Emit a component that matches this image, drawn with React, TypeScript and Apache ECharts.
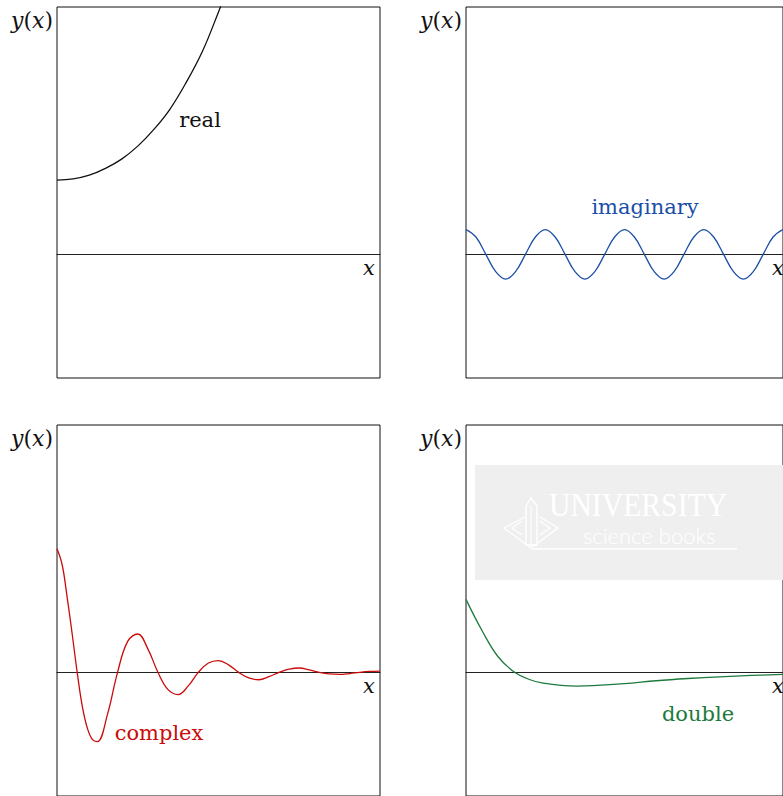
import { useEffect, useRef } from "react";
import * as echarts from "echarts";

// Sampled curves, one pair of arrays per panel (x along the axis, y as plotted).
const realX = [0, 0.5, 1, 1.5, 2, 2.5, 3, 3.5, 4, 4.5, 5, 5.2];
const realY = [0.6, 0.61, 0.64, 0.695, 0.77, 0.875, 1.01, 1.175, 1.39, 1.64, 1.96, 2.1];

const imagX = [
  0, 0.3125, 0.625, 0.9375, 1.25, 1.5625, 1.875, 2.1875, 2.5, 2.8125, 3.125, 3.4375,
  3.75, 4.0625, 4.375, 4.6875, 5, 5.3125, 5.625, 5.9375, 6.25, 6.5625, 6.875, 7.1875,
  7.5, 7.8125, 8.125, 8.4375, 8.75, 9.0625, 9.375, 9.6875, 10,
];
const imagY = [
  0.2, 0.14, 0, -0.14, -0.2, -0.14, 0, 0.14, 0.2, 0.14, 0, -0.14,
  -0.2, -0.14, 0, 0.14, 0.2, 0.14, 0, -0.14, -0.2, -0.14, 0, 0.14,
  0.2, 0.14, 0, -0.14, -0.2, -0.14, 0, 0.14, 0.2,
];

const complexX = [
  0, 0.16, 0.3125, 0.47, 0.625, 0.78, 0.9375, 1.1, 1.25, 1.5625, 1.875, 2.1875,
  2.5, 2.8125, 3.125, 3.4375, 3.75, 4.0625, 4.375, 4.6875, 5, 5.3125, 5.625, 5.9375,
  6.25, 6.5625, 6.875, 7.1875, 7.5, 7.8125, 8.125, 8.4375, 8.75, 9.0625, 9.375, 9.6875, 10,
];
const complexY = [
  1.0, 0.87, 0.61, 0.31, 0, -0.27, -0.45, -0.545, -0.56, -0.34, 0, 0.25,
  0.31, 0.19, 0, -0.14, -0.18, -0.11, 0, 0.075, 0.095, 0.06, 0, -0.045,
  -0.06, -0.035, 0, 0.026, 0.035, 0.02, 0, -0.013, -0.017, -0.01, 0, 0.007, 0.01,
];

const doubleX = [0, 0.5, 1, 1.5, 2, 2.5, 3, 3.5, 4, 5, 6, 7, 8, 9, 10];
const doubleY = [0.59, 0.34, 0.13, 0.007, -0.058, -0.09, -0.106, -0.111, -0.108, -0.092, -0.068, -0.05, -0.036, -0.025, -0.016];

const curveLabels = ["real", "imaginary", "complex", "double"];
const axisName = "x";

const COLORS = ["#111111", "#1b4fa6", "#cc0a0a", "#1d7a3c"];

// Panel boxes (px)
const PANELS = [
  { left: 57, top: 7 },
  { left: 466, top: 7 },
  { left: 57, top: 425 },
  { left: 466, top: 425 },
];
const PW = 323;
const PH = 371;
const Y_MIN = -1;
const Y_MAX = 2;

const zip = (xs: number[], ys: number[]) => xs.map((x, i) => [x, ys[i]]);

export default function App() {
  const ref = useRef<HTMLDivElement>(null);

  useEffect(() => {
    if (!ref.current) return;
    const chart = echarts.init(ref.current, null, { renderer: "svg" });

    const series = [
      zip(realX, realY),
      zip(imagX, imagY),
      zip(complexX, complexY),
      zip(doubleX, doubleY),
    ];

    const zeroY = (p: { top: number }) => p.top + (PH * Y_MAX) / (Y_MAX - Y_MIN);

    // Curve label anchor points (px)
    const labelPos = [
      [200, 120],
      [645, 207],
      [159, 733],
      [698, 714],
    ];

    const serif = "'DejaVu Serif', 'Liberation Serif', serif";
    const wm = { stroke: "#ffffff", lineWidth: 1.3, fill: "none" };

    const graphic: any[] = [
      // watermark
      {
        type: "rect",
        shape: { x: 475, y: 465, width: 330, height: 115 },
        style: { fill: "#efefef" },
        z: 0,
      },
      {
        type: "text",
        x: 549,
        y: 505,
        scaleX: 0.9,
        style: {
          text: "UNIVERSITY",
          fill: "#ffffff",
          fontFamily: "'Liberation Serif', serif",
          fontSize: 33,
          verticalAlign: "middle",
          align: "left",
        },
        z: 1,
      },
      {
        type: "text",
        x: 583,
        y: 535,
        style: {
          text: "science books",
          fill: "#ffffff",
          fontFamily: "Lato, 'Open Sans', sans-serif",
          fontWeight: 300,
          fontSize: 22,
          verticalAlign: "middle",
          align: "left",
        },
        z: 1,
      },
      {
        type: "line",
        shape: { x1: 532, y1: 549, x2: 737, y2: 549 },
        style: { stroke: "#ffffff", lineWidth: 1.3 },
        z: 1,
      },
      {
        type: "polyline",
        shape: { points: [[525, 517], [504, 528], [531, 548], [558, 528], [540, 517]] },
        style: wm,
        z: 1,
      },
      {
        type: "polyline",
        shape: { points: [[522, 521], [512, 528], [522, 535]] },
        style: wm,
        z: 1,
      },
      {
        type: "polyline",
        shape: { points: [[540, 521], [550, 528], [540, 535]] },
        style: wm,
        z: 1,
      },
      {
        type: "polygon",
        shape: { points: [[526, 545], [526, 506], [531, 498], [537, 506], [537, 545]] },
        style: wm,
        z: 1,
      },
      {
        type: "line",
        shape: { x1: 531, y1: 506, x2: 531, y2: 545 },
        style: { stroke: "#ffffff", lineWidth: 1 },
        z: 1,
      },
    ];

    PANELS.forEach((p, i) => {
      // y(x) label to the left of each box
      graphic.push({
        type: "text",
        x: p.left - 4,
        y: p.top + 13,
        style: {
          text: "{i|y}{r|(}{i|x}{r|)}",
          align: "right",
          verticalAlign: "middle",
          fill: "#111",
          rich: {
            i: { fontFamily: serif, fontStyle: "italic", fontSize: 22, fill: "#111" },
            r: { fontFamily: serif, fontSize: 22, fill: "#111" },
          },
        },
        z: 5,
      });
      // axis name near the right end of the zero line
      graphic.push({
        type: "text",
        x: p.left + PW - 11,
        y: zeroY(p) + 14,
        style: {
          text: axisName,
          fill: "#111",
          fontFamily: serif,
          fontStyle: "italic",
          fontSize: 21,
          align: "center",
          verticalAlign: "middle",
        },
        z: 5,
      });
      // curve label
      graphic.push({
        type: "text",
        x: labelPos[i][0],
        y: labelPos[i][1],
        style: {
          text: curveLabels[i],
          fill: i === 0 ? "#111" : COLORS[i],
          fontFamily: serif,
          fontSize: 21,
          align: "center",
          verticalAlign: "middle",
        },
        z: 5,
      });
    });

    chart.setOption({
      animation: false,
      backgroundColor: "#ffffff",
      grid: PANELS.map((p) => ({
        left: p.left,
        top: p.top,
        width: PW,
        height: PH,
        show: true,
        borderColor: "#111",
        borderWidth: 1,
        backgroundColor: "transparent",
        containLabel: false,
      })),
      xAxis: PANELS.map((_, i) => ({
        type: "value",
        gridIndex: i,
        min: 0,
        max: 10,
        axisLine: { show: true, onZero: true, lineStyle: { color: "#222", width: 1.2 } },
        axisTick: { show: false },
        axisLabel: { show: false },
        splitLine: { show: false },
      })),
      yAxis: PANELS.map((_, i) => ({
        type: "value",
        gridIndex: i,
        min: Y_MIN,
        max: Y_MAX,
        axisLine: { show: false },
        axisTick: { show: false },
        axisLabel: { show: false },
        splitLine: { show: false },
      })),
      series: series.map((data, i) => ({
        type: "line",
        xAxisIndex: i,
        yAxisIndex: i,
        data,
        smooth: 0.4,
        showSymbol: false,
        clip: true,
        lineStyle: { color: COLORS[i], width: 1.3 },
        z: 3,
      })),
      graphic,
    });

    return () => chart.dispose();
  }, []);

  return (
    <div
      ref={ref}
      style={{ position: "absolute", left: 0, top: 0, width: 783, height: 796 }}
    />
  );
}
